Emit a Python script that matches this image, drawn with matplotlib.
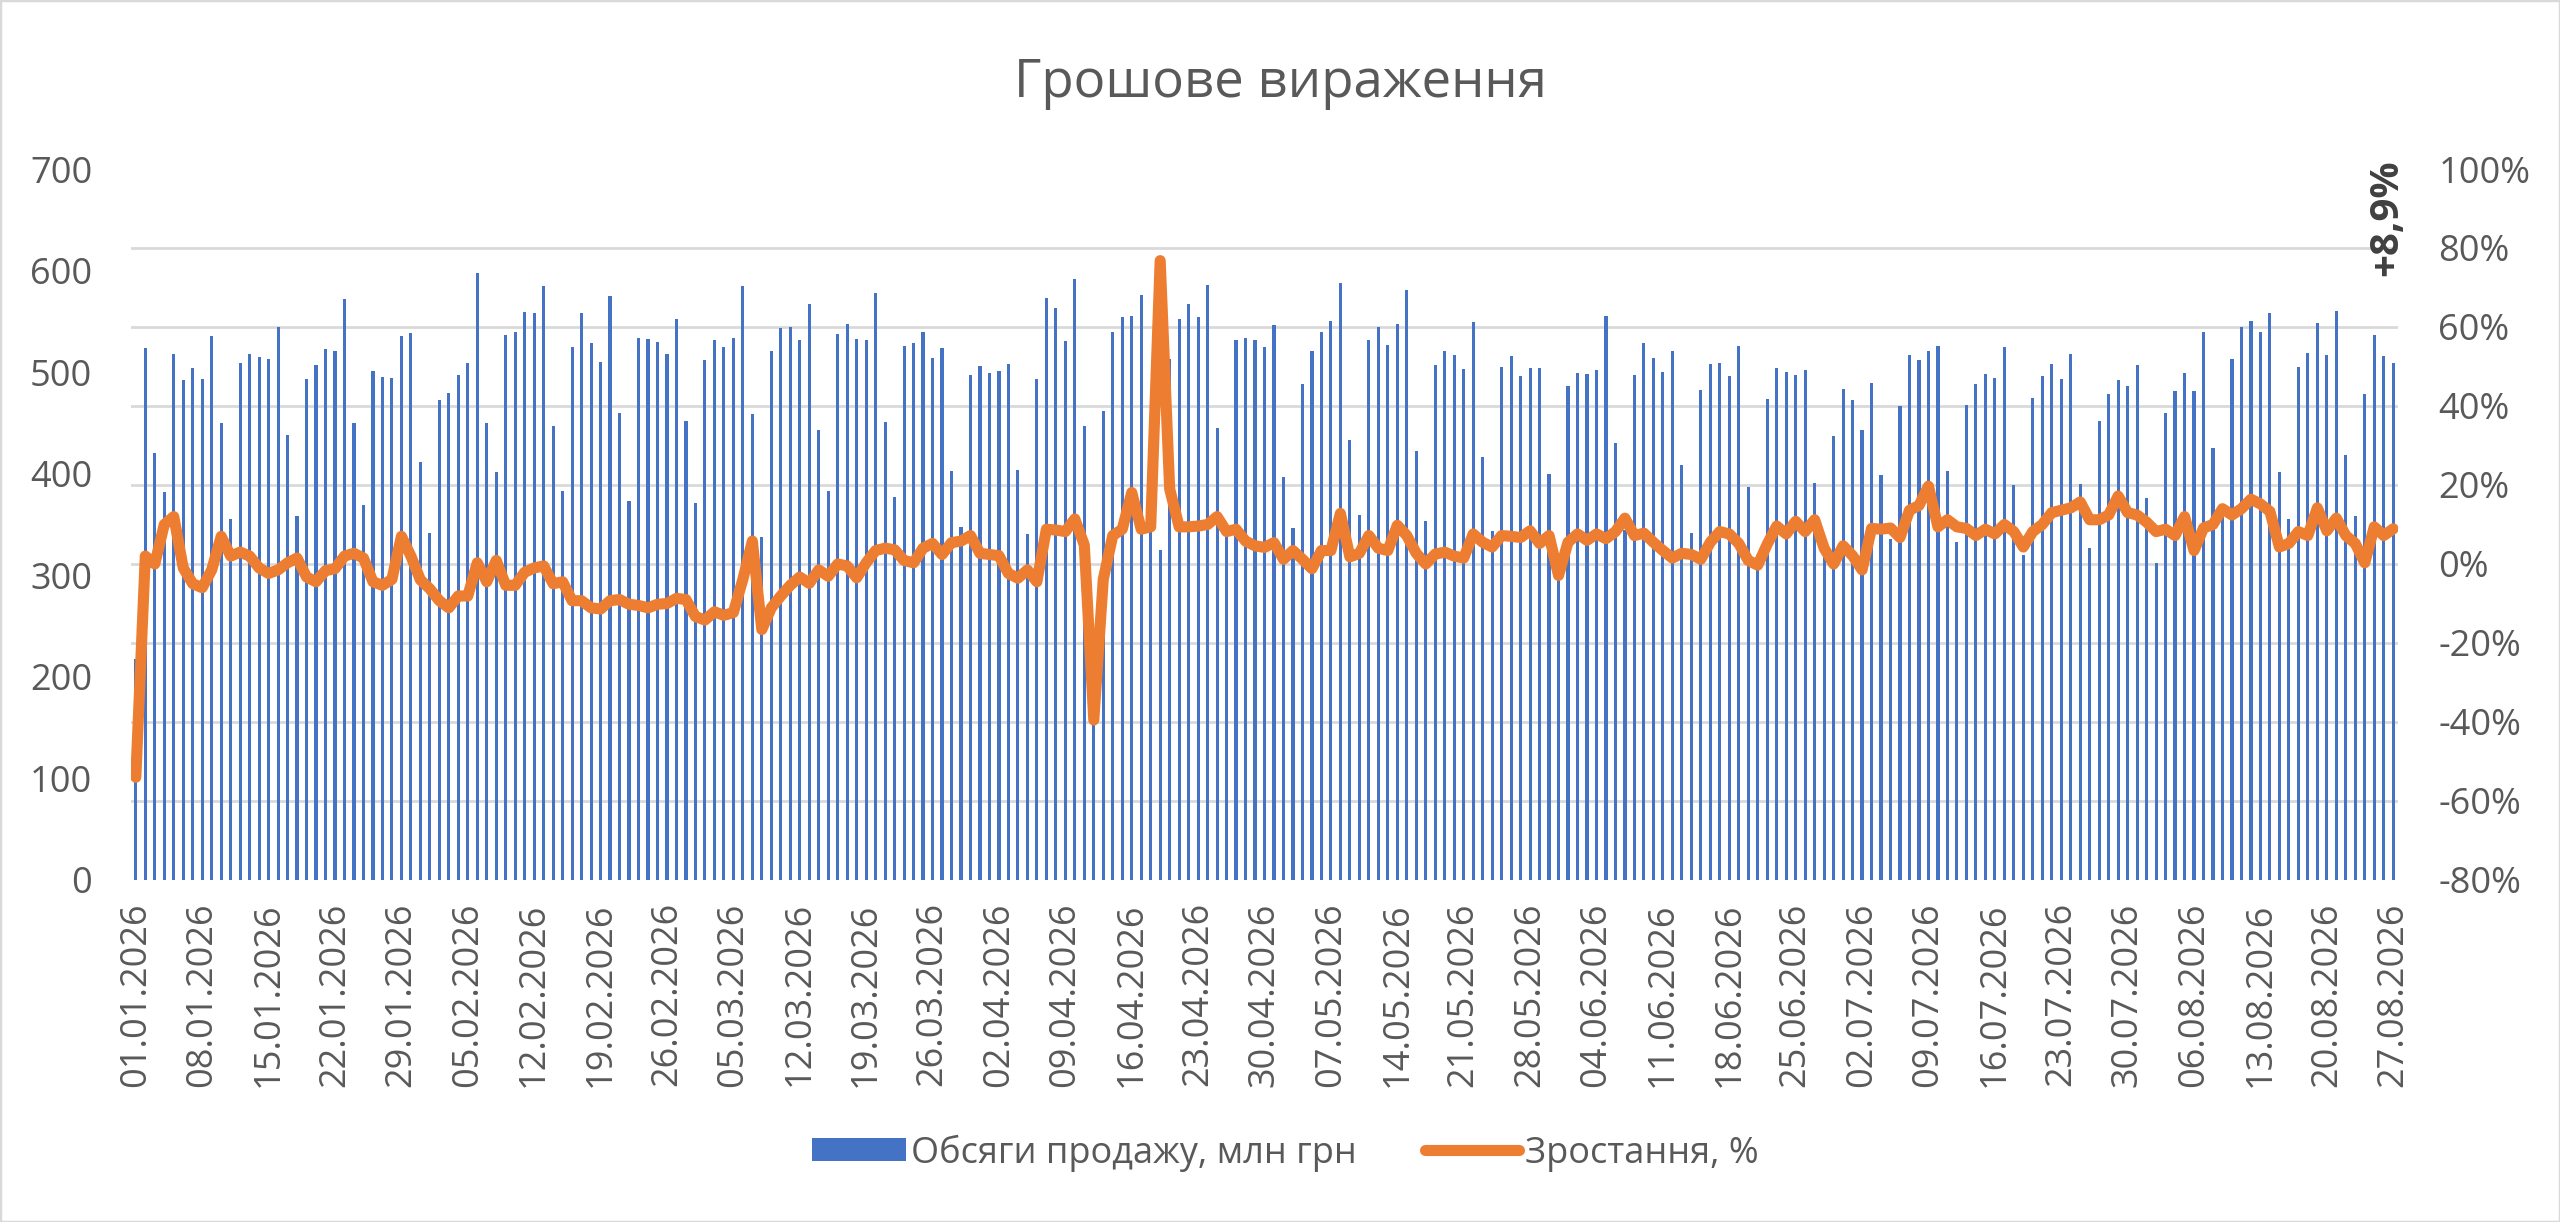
import numpy as np
import pandas as pd
import matplotlib
matplotlib.use('Agg')
import matplotlib.pyplot as plt
from matplotlib.patches import Rectangle

plt.rcParams['font.family'] = ['Open Sans', 'DejaVu Sans']

# daily data, 01.01.2026 - 27.08.2026
dates = pd.date_range('2026-01-01', '2026-08-27', freq='D')

# sales volume, mln UAH
sales = [
    218, 524, 420, 382, 518, 492, 504, 493, 536, 450,
    355, 509, 518, 515, 513, 544, 438, 358, 493, 507,
    523, 521, 572, 450, 369, 501, 495, 494, 536, 539,
    412, 342, 473, 479, 497, 509, 598, 450, 402, 537,
    540, 559, 558, 585, 447, 383, 525, 558, 529, 510,
    575, 460, 373, 534, 533, 530, 518, 552, 452, 371,
    512, 532, 525, 534, 585, 459, 338, 521, 543, 544,
    532, 567, 443, 383, 538, 547, 533, 532, 578, 451,
    377, 526, 529, 540, 514, 524, 403, 348, 497, 506,
    499, 501, 508, 404, 341, 493, 573, 563, 531, 592,
    447, 175, 462, 540, 554, 555, 576, 348, 325, 513,
    552, 567, 554, 586, 445, 343, 532, 534, 532, 525,
    546, 397, 347, 488, 521, 540, 550, 588, 433, 359,
    532, 544, 527, 547, 581, 422, 353, 507, 521, 517,
    503, 549, 416, 344, 505, 516, 496, 504, 504, 400,
    320, 486, 499, 498, 502, 555, 430, 345, 497, 529,
    514, 500, 521, 409, 342, 482, 508, 509, 496, 526,
    387, 320, 474, 504, 500, 497, 502, 391, 320, 437,
    483, 473, 443, 489, 399, 336, 467, 517, 512, 521,
    526, 403, 333, 468, 488, 498, 494, 525, 389, 320,
    475, 496, 508, 493, 518, 390, 327, 452, 478, 492,
    486, 507, 376, 312, 460, 481, 499, 481, 540, 425,
    370, 513, 544, 550, 540, 558, 402, 355, 505, 519,
    548, 517, 560, 418, 358, 478, 537, 516, 509,
]

# growth vs last year, %
growth = [
    -54, 2, 0, 10, 12, -1, -5, -6, -1.5, 7,
    2, 3, 2, -1, -2.4, -1.5, 0.3, 1.5, -3.3, -4.5,
    -1.7, -1.2, 2, 2.7, 1.5, -4.5, -5.4, -3.9, 7, 2,
    -4, -6.3, -9.3, -11.1, -8.1, -8.1, 0.3, -4.5, 0.9, -5.4,
    -5.4, -2.1, -1, -0.5, -5, -4.5, -9.3, -9.3, -11.1, -11.4,
    -9.3, -9, -10.2, -10.5, -11.1, -10.2, -10, -8.7, -9, -13.3,
    -14.2, -12.1, -13, -12.3, -3.9, 5.8, -16.6, -11.1, -8.1, -5.4,
    -3.3, -4.9, -1.5, -3.1, 0, -0.5, -3.5, 0.3, 3.4, 4,
    3.6, 0.9, 0.3, 4, 5.2, 2.4, 5.4, 5.8, 7.2, 2.7,
    2.4, 2.1, -2.4, -3.6, -1.5, -4.5, 8.8, 8.6, 8.2, 11.4,
    4.8, -39.5, -3.9, 7.2, 8.8, 18.1, 8.8, 9.4, 76.8, 19,
    9.4, 9.4, 9.6, 10, 12, 8.2, 8.8, 5.8, 4.6, 4.2,
    5.4, 1.2, 3.4, 1.2, -1.2, 3.4, 3.4, 12.8, 1.8, 2.7,
    7.2, 4, 3.4, 9.8, 7.2, 2.7, 0, 2.5, 3, 2,
    1.5, 7.6, 5.5, 4.3, 7.2, 7, 6.7, 8.4, 5.2, 7.2,
    -2.9, 5.5, 7.6, 6, 7.6, 6.4, 8.2, 11.6, 7.2, 7.8,
    5.5, 3.4, 1.5, 2.7, 2.4, 1.2, 5.5, 8.2, 7.6, 5.2,
    0.9, -0.3, 5, 9.6, 7.6, 10.8, 8.2, 11.2, 4, 0,
    4.6, 2.1, -1.5, 9, 8.8, 9.1, 6.7, 13.6, 14.8, 19.7,
    9.4, 11.2, 9.4, 9, 7.2, 8.8, 7.6, 10, 8.2, 4.3,
    8.2, 10, 13, 13.6, 14.2, 15.7, 11.2, 11.2, 12.4, 17.2,
    13, 12.4, 10.6, 8.2, 8.8, 7.2, 12, 3.4, 9.1, 10,
    14, 12.4, 14, 16.4, 15.2, 13.3, 4.3, 5.2, 8.2, 7.2,
    14.2, 8.4, 11.6, 7.2, 5.2, 0.3, 9.4, 7.2, 8.9,
]

left_ticks = list(range(0, 701, 100))
pct_ticks = list(range(-80, 101, 20))

grey = '#595959'
x = np.arange(len(dates))

fig = plt.figure(figsize=(25.6, 12.22), dpi=100)
ax = fig.add_axes([0.0512, 0.2799, 0.8855, 0.5818])

ax.bar(x, sales, width=0.33, color='#4472C4', zorder=2,
       label='Обсяги продажу, млн грн')
ax.set_xlim(-0.5, len(x) - 0.5)
ax.set_ylim(0, 700)
ax.set_yticks(left_ticks)
ax.set_yticklabels([str(v) for v in left_ticks], fontsize=26, color=grey)

# gridlines follow the percent axis, drawn below the bars
ax.set_yticks([(p + 80) / 180 * 700 for p in pct_ticks], minor=True)
ax.grid(which='minor', axis='y', color='#D9D9D9', lw=2)
ax.set_axisbelow(True)

ax.set_xticks(x[::7])
ax.set_xticklabels(dates[::7].strftime('%d.%m.%Y'), rotation=90,
                   fontsize=26, color=grey, va='top', ha='center')
ax.tick_params(axis='both', which='both', length=0)
ax.tick_params(axis='y', pad=28)
ax.tick_params(axis='x', pad=16)

ax2 = ax.twinx()
ax2.plot(x, growth, color='#ED7D31', lw=8, solid_joinstyle='round',
         solid_capstyle='round', label='Зростання, %')
ax2.set_ylim(-80, 100)
ax2.set_yticks(pct_ticks)
ax2.set_yticklabels(['%d%%' % p for p in pct_ticks], fontsize=26, color=grey)
ax2.tick_params(axis='y', length=0, pad=29)

for a in (ax, ax2):
    for s in a.spines.values():
        s.set_visible(False)

# last value label
last = ('+%.1f%%' % growth[-1]).replace('.', ',')
ax2.text(x[-1] - 0.7, 1.014, last, transform=ax2.get_xaxis_transform(),
         rotation=90, ha='center', va='top', fontsize=29,
         fontweight='bold', color='#404040')

fig.text(0.5, 0.921, 'Грошове вираження', ha='center', va='baseline',
         fontsize=38, color=grey)

h1, l1 = ax.get_legend_handles_labels()
h2, l2 = ax2.get_legend_handles_labels()
fig.legend(h1 + h2, l1 + l2, loc='center', bbox_to_anchor=(0.502, 0.0565),
           ncol=2, frameon=False, fontsize=26, handlelength=2.6,
           handleheight=0.6, handletextpad=0.15, columnspacing=1.9,
           labelcolor=grey)

fig.add_artist(Rectangle((0, 0), 1, 1, transform=fig.transFigure,
                         fill=False, ec='#D9D9D9', lw=2.5))

fig.savefig('out.png', dpi=100)
